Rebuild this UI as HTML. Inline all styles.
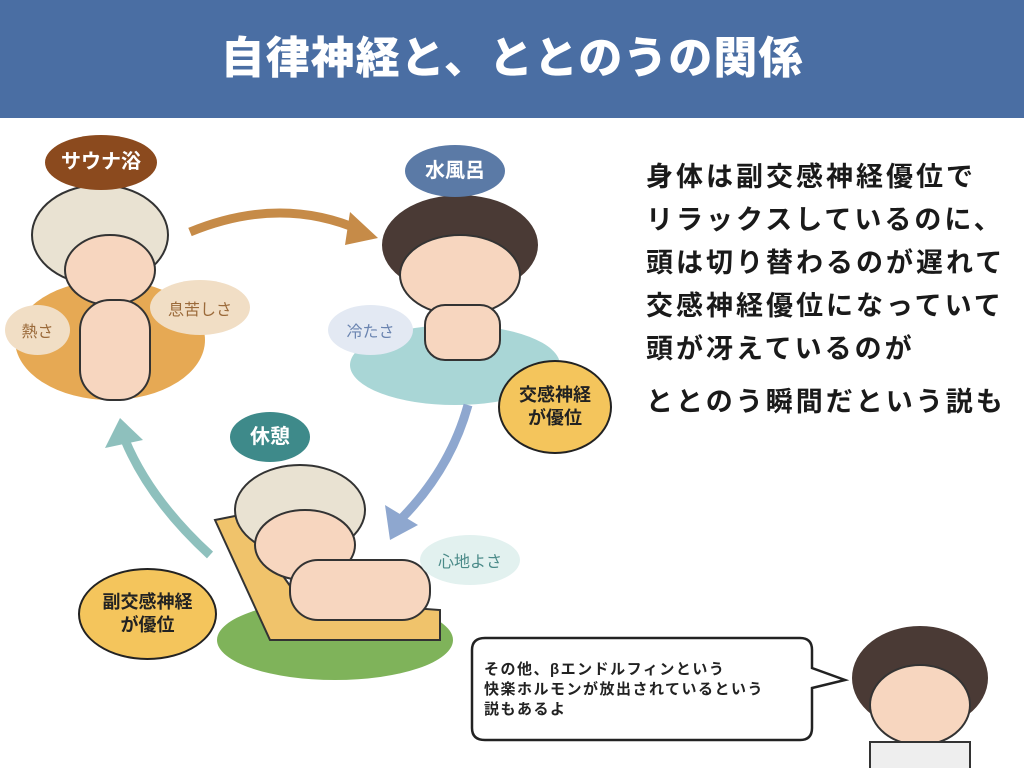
<!DOCTYPE html>
<html><head><meta charset="utf-8"><style>
body{margin:0;width:1024px;height:768px;overflow:hidden;background:#fff;font-family:"Liberation Sans","Noto Sans CJK JP",sans-serif;position:relative}
.hd{position:absolute;left:0;top:0;width:1024px;height:118px;background:#4a6ea3;color:#fff;font-size:44px;font-weight:900;text-align:center;line-height:118px;letter-spacing:1px}
.t{position:absolute;left:646px;font-size:27px;font-weight:700;color:#1a1a1a;white-space:nowrap;letter-spacing:3px}
.lab{position:absolute;border-radius:50%;color:#fff;font-weight:700;font-size:20px;text-align:center}
.yb{position:absolute;background:#f4c55c;border:2px solid #222;border-radius:50%;font-weight:700;font-size:18px;text-align:center;color:#222;display:flex;align-items:center;justify-content:center;line-height:1.3}
.bl{position:absolute;border-radius:50%;font-size:16px;text-align:center;display:flex;align-items:center;justify-content:center}
</style></head><body>
<div class="hd">自律神経と、ととのうの関係</div>
<div class="t" style="top:155px">身体は副交感神経優位で</div>
<div class="t" style="top:198px">リラックスしているのに、</div>
<div class="t" style="top:241px">頭は切り替わるのが遅れて</div>
<div class="t" style="top:284px">交感神経優位になっていて</div>
<div class="t" style="top:327px">頭が冴えているのが</div>
<div class="t" style="top:380px">ととのう瞬間だという説も</div>

<svg width="1024" height="768" style="position:absolute;left:0;top:0">
<ellipse cx="110" cy="340" rx="95" ry="60" fill="#e6a954"/>
<ellipse cx="455" cy="365" rx="105" ry="40" fill="#a9d6d6"/>
<ellipse cx="335" cy="640" rx="118" ry="40" fill="#7fb35a"/>
<ellipse cx="100" cy="235" rx="68" ry="50" fill="#e9e2d2" stroke="#333" stroke-width="2"/>
<ellipse cx="110" cy="270" rx="45" ry="35" fill="#f7d6bf" stroke="#333" stroke-width="2"/>
<rect x="80" y="300" width="70" height="100" rx="30" fill="#f7d6bf" stroke="#333" stroke-width="2"/>
<ellipse cx="460" cy="245" rx="78" ry="50" fill="#4a3a35"/>
<ellipse cx="460" cy="275" rx="60" ry="40" fill="#f7d6bf" stroke="#333" stroke-width="2"/>
<rect x="425" y="305" width="75" height="55" rx="20" fill="#f7d6bf" stroke="#333" stroke-width="2"/>
<path d="M215 520 L270 640 L440 640 L440 610 L300 600 L240 515 Z" fill="#f0c36b" stroke="#333" stroke-width="2"/>
<ellipse cx="300" cy="510" rx="65" ry="45" fill="#e9e2d2" stroke="#333" stroke-width="2"/>
<ellipse cx="305" cy="545" rx="50" ry="35" fill="#f7d6bf" stroke="#333" stroke-width="2"/>
<rect x="290" y="560" width="140" height="60" rx="28" fill="#f7d6bf" stroke="#333" stroke-width="2"/>
<path d="M190 232 Q280 195 360 230" fill="none" stroke="#c68b48" stroke-width="9"/>
<polygon points="350,212 378,238 345,245" fill="#c68b48"/>
<path d="M468 405 Q450 470 400 520" fill="none" stroke="#8ea7cf" stroke-width="9"/>
<polygon points="385,505 390,540 418,525" fill="#8ea7cf"/>
<path d="M210 555 Q150 500 125 440" fill="none" stroke="#8ec0bd" stroke-width="9"/>
<polygon points="105,448 120,418 143,440" fill="#8ec0bd"/>
<ellipse cx="920" cy="678" rx="68" ry="52" fill="#4a3a35"/>
<ellipse cx="920" cy="705" rx="50" ry="40" fill="#f7d6bf" stroke="#333" stroke-width="2"/>
<rect x="870" y="742" width="100" height="30" fill="#eee" stroke="#333" stroke-width="2"/>
<path d="M485 638 L800 638 Q812 638 812 650 L812 668 L845 680 L812 688 L812 728 Q812 740 800 740 L485 740 Q472 740 472 728 L472 650 Q472 638 485 638 Z" fill="#fff" stroke="#222" stroke-width="2.5"/>
</svg>
<div class="lab" style="left:45px;top:135px;width:112px;height:55px;line-height:55px;background:#8b4a1e">サウナ浴</div>
<div class="lab" style="left:405px;top:145px;width:100px;height:52px;line-height:52px;background:#5b7aa6">水風呂</div>
<div class="lab" style="left:230px;top:412px;width:80px;height:50px;line-height:50px;background:#3e8a8a">休憩</div>
<div class="yb" style="left:498px;top:360px;width:110px;height:90px">交感神経<br>が優位</div>
<div class="yb" style="left:78px;top:568px;width:135px;height:88px">副交感神経<br>が優位</div>
<div class="bl" style="left:5px;top:305px;width:65px;height:50px;background:#f1dec5;color:#9b6a3a">熱さ</div>
<div class="bl" style="left:150px;top:280px;width:100px;height:55px;background:#f1dec5;color:#9b6a3a">息苦しさ</div>
<div class="bl" style="left:328px;top:305px;width:85px;height:50px;background:#e3e9f3;color:#6a84b0">冷たさ</div>
<div class="bl" style="left:420px;top:535px;width:100px;height:50px;background:#e2f1ef;color:#4a8a88">心地よさ</div>
<div style="position:absolute;left:484px;top:660px;font-size:15px;font-weight:700;line-height:20px;color:#222;letter-spacing:1.5px">その他、βエンドルフィンという<br>快楽ホルモンが放出されているという<br>説もあるよ</div>
</body></html>
